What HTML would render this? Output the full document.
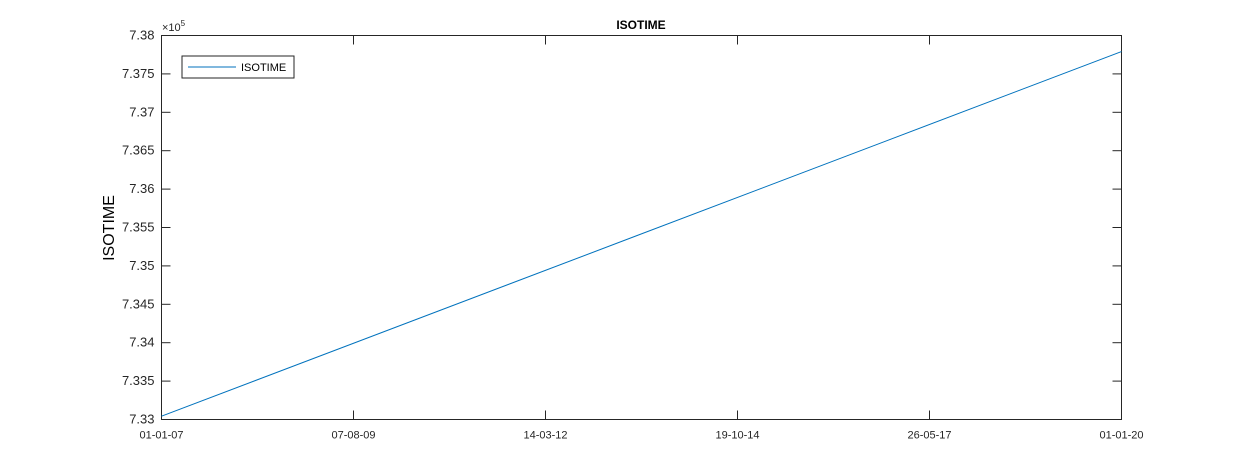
<!DOCTYPE html>
<html><head><meta charset="utf-8"><style>
body{margin:0;background:#fff;}
svg{display:block;font-family:"Liberation Sans",Arial,sans-serif;}
</style></head><body>
<svg id="chart" width="1240" height="472" viewBox="0 0 1240 472">
<rect width="1240" height="472" fill="#fff"/>
<text x="641" y="29" font-size="12" font-weight="bold" text-anchor="middle">ISOTIME</text>
<text x="114" y="228" font-size="16" text-anchor="middle" transform="rotate(-90 114 228)">ISOTIME</text>
<text x="162" y="31" font-size="11" fill="#262626">×10<tspan dy="-5" font-size="8">5</tspan></text>
<g id="axes"></g>
<g id="marks"></g>
<g>
<rect x="182" y="56" width="112" height="22" fill="#fff" stroke="#262626" stroke-width="1"/>
<line x1="188" y1="67" x2="236" y2="67" stroke="#0072bd" stroke-width="1"/>
<text x="241" y="71" font-size="11" fill="#000">ISOTIME</text>
</g>
</svg>
<script>
const xTickLabels=["01-01-07","07-08-09","14-03-12","19-10-14","26-05-17","01-01-20"];
const yTickValues=[733000,733500,734000,734500,735000,735500,736000,736500,737000,737500,738000];
const yTickLabels=["7.33","7.335","7.34","7.345","7.35","7.355","7.36","7.365","7.37","7.375","7.38"];
const seriesX=[0,1];
const seriesY=[733043,737791];
const L=161.5,R=1121.5,T=35.5,B=419.5;
const xMin=0,xMax=1,yMin=733000,yMax=738000;
const sx=v=>L+(v-xMin)/(xMax-xMin)*(R-L);
const sy=v=>B-(v-yMin)/(yMax-yMin)*(B-T);
const NS="http://www.w3.org/2000/svg";
const axes=document.getElementById('axes'),marks=document.getElementById('marks');
function mk(tag,attrs,parent){const e=document.createElementNS(NS,tag);for(const k in attrs)e.setAttribute(k,attrs[k]);parent.appendChild(e);return e;}
const box=mk('rect',{x:L,y:T,width:R-L,height:B-T,fill:'none',stroke:'#262626','stroke-width':1},axes);


yTickValues.forEach((v,i)=>{const y=sy(v);
 const t1=mk('line',{x1:L,x2:L+9,y1:y,y2:y,stroke:'#262626'},axes);
 
 
 const t2=mk('line',{x1:R,x2:R-9,y1:y,y2:y,stroke:'#262626'},axes);
 
 
 const tx=mk('text',{x:L-7,y:y+4,'font-size':13,'text-anchor':'end',fill:'#262626'},axes);
 tx.textContent=yTickLabels[i];
 
 
});
xTickLabels.forEach((lab,i)=>{const x=sx(i/(xTickLabels.length-1));
 const t1=mk('line',{x1:x,x2:x,y1:B,y2:B-9,stroke:'#262626'},axes);
 
 
 const t2=mk('line',{x1:x,x2:x,y1:T,y2:T+9,stroke:'#262626'},axes);
 
 
 const tx=mk('text',{x:x,y:B+19,'font-size':11,'text-anchor':'middle',fill:'#262626'},axes);
 tx.textContent=lab;
 
 
});
const pts=seriesX.map((x,i)=>sx(x)+','+sy(seriesY[i])).join(' ');
const line=mk('polyline',{points:pts,fill:'none',stroke:'#0072bd','stroke-width':1},marks);


</script>
</body></html>
